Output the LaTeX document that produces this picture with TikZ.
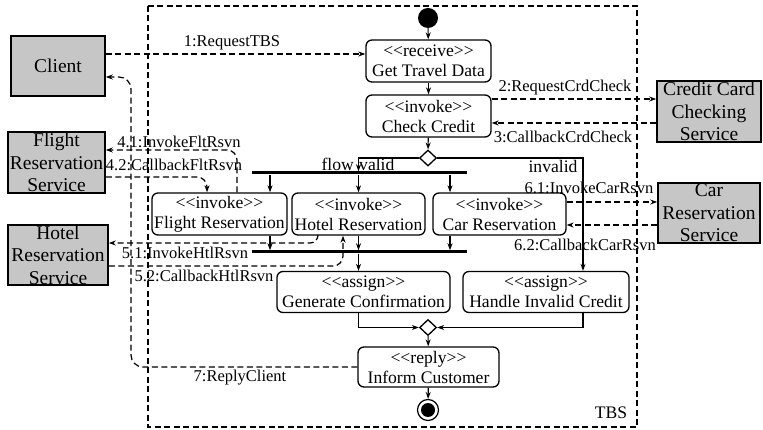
\documentclass[tikz,border=0pt]{standalone}
\usepackage{fontspec}
\setmainfont{Liberation Serif}
\usetikzlibrary{arrows.meta,shapes.geometric}
% stereotype label such as <<invoke>>, kept free of guillemet ligatures
\newcommand{\stereo}[1]{<{}<#1>{}>}
\begin{document}
\begin{tikzpicture}[x=1pt,y=-1pt,
  every node/.style={inner sep=0pt},
  act/.style={draw, rounded corners=6pt, line width=1.3pt, align=center,
    font=\fontsize{17.6}{20}\selectfont},
  svc/.style={draw, fill=gray!45, line width=1.6pt, align=center,
    font=\fontsize{19.5}{22.5}\selectfont},
  lbl/.style={font=\fontsize{16.5}{18}\selectfont},
  guard/.style={font=\fontsize{17.6}{20}\selectfont},
  bar/.style={fill=black, minimum height=3pt, minimum width=215pt},
  gate/.style={diamond, draw, line width=1.3pt, fill=white,
    minimum width=17pt, minimum height=16pt},
  flow/.style={line width=1.1pt, -{Stealth[length=7pt,width=5pt]}},
  msg/.style={line width=1.2pt, dash pattern=on 6pt off 3.5pt,
    -{Stealth[length=7pt,width=5pt]}},
  frame/.style={line width=1.2pt, dash pattern=on 6pt off 3.5pt},
]
\useasboundingbox (0,0) rectangle (763,430);

% process boundary
\draw[frame] (148,6) rectangle (637,427);
\node[guard] (tbs) at (611,413) {TBS};

% partner services
\node[svc, minimum width=94pt, minimum height=60pt] (client) at (58,66) {Client};
\node[svc, minimum width=97pt, minimum height=61pt] (fltsvc) at (56.5,162.5) {Flight\\Reservation\\Service};
\node[svc, minimum width=100pt, minimum height=60pt] (htlsvc) at (58,255) {Hotel\\Reservation\\Service};
\node[svc, minimum width=104pt, minimum height=61pt] (ccsvc) at (709,111.5) {Credit Card\\Checking\\Service};
\node[svc, minimum width=102pt, minimum height=60pt] (carsvc) at (709,213) {Car\\Reservation\\Service};

% activities
\node[circle, fill=black, minimum size=20pt] (start) at (428,18) {};
\node[act, minimum width=125pt, minimum height=42pt] (recv) at (428.5,61) {\stereo{receive}\\Get Travel Data};
\node[act, minimum width=125pt, minimum height=42pt] (check) at (428.5,116) {\stereo{invoke}\\Check Credit};
\node[gate] (dec) at (428,158) {};
\node[bar] (fork) at (359.5,173) {};
\node[act, minimum width=135pt, minimum height=42pt] (flight) at (219.5,214) {\stereo{invoke}\\Flight Reservation};
\node[act, minimum width=133pt, minimum height=42pt] (hotel) at (358.5,214) {\stereo{invoke}\\Hotel Reservation};
\node[act, minimum width=133pt, minimum height=42pt] (car) at (499.5,214) {\stereo{invoke}\\Car Reservation};
\node[bar] (join) at (359.5,252) {};
\node[act, minimum width=173pt, minimum height=41pt] (gen) at (363.5,292) {\stereo{assign}\\Generate Confirmation};
\node[act, minimum width=166pt, minimum height=41pt] (handle) at (546,292) {\stereo{assign}\\Handle Invalid Credit};
\node[gate] (merge) at (428,327.5) {};
\node[act, minimum width=141pt, minimum height=40pt] (inform) at (428.5,367) {\stereo{reply}\\Inform Customer};
\node[circle, draw, line width=1.2pt, minimum size=21pt] (stop) at (428,410) {};
\node[circle, fill=black, minimum size=14pt] (stopdot) at (stop) {};

% columns of the parallel branches
\coordinate (c1) at (270,0);
\coordinate (c3) at (450,0);
\coordinate (cinv) at (583,0);

% control flow
\draw[flow] (start) -- (recv);
\draw[flow] (recv) -- (check);
\draw[flow] (check) -- (dec);
\draw[flow] (dec.west) -| (hotel.north |- fork.north);
\draw[flow] (dec.east) -| (handle.north -| cinv);
\draw[flow] (fork.south -| c1) -- (flight.north -| c1);
\draw[flow] (fork.south -| hotel.north) -- (hotel.north);
\draw[flow] (fork.south -| c3) -- (car.north -| c3);
\draw[flow] (flight.south -| c1) -- (join.north -| c1);
\draw[flow] (hotel.south) -- (join.north -| hotel.south);
\draw[flow] (car.south -| c3) -- (join.north -| c3);
\draw[flow] (join.south -| hotel.south) -- (gen.north -| hotel.south);
\draw[flow] (gen.south -| hotel.south) |- (merge.west);
\draw[flow] (handle.south -| cinv) |- (merge.east);
\draw[flow] (merge) -- (inform);
\draw[flow] (inform) -- (stop);

\node[guard, anchor=east] (flowlbl) at (354,164) {flow};
\node[guard, anchor=west] (validlbl) at (359,164) {valid};
\node[guard] (invalidlbl) at (553,166) {invalid};

% message exchanges with the partners
\draw[msg] (client.east |- 0,54) -- (recv.west |- 0,54);
\node[lbl] (m1) at (232,43) {1:RequestTBS};
\draw[msg] (check.east |- 0,99) -- (ccsvc.west |- 0,99);
\node[lbl] (m2) at (565,88) {2:RequestCrdCheck};
\draw[msg] (ccsvc.west |- 0,123) -- (check.east |- 0,123);
\node[lbl] (m3) at (563,137) {3:CallbackCrdCheck};
\draw[msg, rounded corners=10pt] (flight.north -| 237,0) |- (fltsvc.east |- 0,150);
\node[lbl] (m41) at (179,142) {4.1:InvokeFltRsvn};
\draw[msg, rounded corners=10pt] (fltsvc.east |- 0,177) -| (flight.north -| 207,0);
\node[lbl] (m42) at (174,165) {4.2:CallbackFltRsvn};
\draw[msg, rounded corners=8pt] (hotel.south -| 318,0) |- (htlsvc.east |- 0,243);
\node[lbl] (m51) at (185,253) {5.1:InvokeHtlRsvn};
\draw[msg, rounded corners=10pt] (htlsvc.east |- 0,266) -| (hotel.south -| 343,0);
\node[lbl] (m52) at (204,276) {5.2:CallbackHtlRsvn};
\draw[msg] (car.east |- 0,202) -- (carsvc.west |- 0,202);
\node[lbl] (m61) at (589,188) {6.1:InvokeCarRsvn};
\draw[msg] (carsvc.west |- 0,225) -- (car.east |- 0,225);
\node[lbl] (m62) at (585,245) {6.2:CallbackCarRsvn};
\draw[msg, rounded corners=12pt] (inform.west) -| (131,77) -- (client.east |- 0,77);
\node[lbl] (m7) at (240,378) {7:ReplyClient};
\end{tikzpicture}
\end{document}
